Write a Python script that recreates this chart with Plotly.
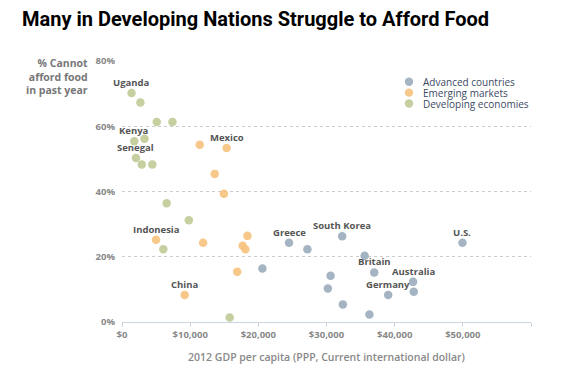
import plotly.graph_objects as go

# ---- data ----
groups = ["Advanced countries", "Emerging markets", "Developing economies"]

adv_gdp = [20600, 24500, 27200, 32300, 49950, 35600, 37000, 30600, 30200, 42700, 42800, 39050, 32400, 36300]
adv_pct = [16.4, 24.3, 22.3, 26.3, 24.3, 20.3, 15.2, 14.2, 10.3, 12.3, 9.3, 8.3, 5.4, 2.3]
adv_names = ["", "Greece", "", "South Korea", "U.S.", "", "Britain", "", "", "Australia", "", "Germany", "", ""]

emg_gdp = [11400, 15350, 13600, 14950, 4990, 11900, 18400, 17700, 18100, 16900, 9200]
emg_pct = [54.3, 53.3, 45.4, 39.3, 25.2, 24.3, 26.4, 23.4, 22.3, 15.4, 8.3]
emg_names = ["", "Mexico", "", "", "Indonesia", "", "", "", "", "", "China"]

dev_gdp = [1400, 2700, 5100, 7400, 1800, 3300, 2050, 2900, 4450, 6550, 9800, 6060, 15800]
dev_pct = [70.2, 67.3, 61.3, 61.3, 55.4, 56.2, 50.3, 48.3, 48.3, 36.4, 31.2, 22.3, 1.4]
dev_names = ["Uganda", "", "", "", "Kenya", "", "Senegal", "", "", "", "", "", ""]

colors = ["#9aacbb", "#f6c27d", "#bfca95"]

x_tickvals = [0, 10000, 20000, 30000, 40000, 50000, 60000]
x_ticktext = ["$0", "$10,000", "$20,000", "$30,000", "$40,000", "$50,000", ""]
y_tickvals = [0, 20, 40, 60, 80]
y_ticktext = ["0%", "20%", "40%", "60%", "80%"]

# ---- layout geometry ----
W, H = 570, 374
L, R, T, B = 122, 39, 61, 49
PW, PH = W - L - R, H - T - B


def px_to_paper(px, py):
    return (px - L) / PW, (H - B - py) / PH


fig = go.Figure()
series = [(adv_gdp, adv_pct, adv_names), (emg_gdp, emg_pct, emg_names), (dev_gdp, dev_pct, dev_names)]
for (xs, ys, names), g, c in zip(series, groups, colors):
    fig.add_trace(go.Scatter(
        x=xs, y=ys, mode="markers", name=g, showlegend=False,
        marker=dict(size=8.5, color=c, opacity=0.9, line=dict(width=0)),
        hoverinfo="skip"))
    for x, y, n in zip(xs, ys, names):
        if n:
            fig.add_annotation(x=x, y=y, text=n, showarrow=False, yshift=10.5,
                               font=dict(family="Open Sans", size=9.5, color="#555", weight=700))

# manual compact legend
for i, (g, c) in enumerate(zip(groups, colors)):
    cy = 82 + 11 * i
    mx, my = px_to_paper(409, cy)
    fig.add_shape(type="circle", xref="paper", yref="paper", xsizemode="pixel", ysizemode="pixel",
                  xanchor=mx, yanchor=my, x0=-4.2, x1=4.2, y0=-4.2, y1=4.2,
                  fillcolor=c, line=dict(width=0), opacity=0.9)
    tx, ty = px_to_paper(421, cy)
    fig.add_annotation(xref="paper", yref="paper", x=tx, y=ty, xanchor="left", yanchor="middle",
                       text=g, showarrow=False,
                       font=dict(family="Open Sans", size=10, color="#3c4a63"))

# y-axis title
ax, ay = px_to_paper(90, 54)
fig.add_annotation(xref="paper", yref="paper", x=ax, y=ay, xanchor="right", yanchor="top",
                   text="% Cannot<br>afford food<br>in past year", showarrow=False, align="right",
                   font=dict(family="Open Sans", size=10.5, color="#777", weight=700))

fig.update_layout(
    width=W, height=H,
    margin=dict(l=L, r=R, t=T, b=B),
    paper_bgcolor="white", plot_bgcolor="white",
    title=dict(text="Many in Developing Nations Struggle to Afford Food",
               xref="container", yref="container", x=22 / W, xanchor="left",
               y=1 - 19 / H, yanchor="middle",
               font=dict(family="Roboto, Liberation Sans, sans-serif", size=20,
                         color="#000", weight=700)),
    xaxis=dict(range=[0, 60000], tickvals=x_tickvals, ticktext=x_ticktext,
               showgrid=False, zeroline=False, showline=True, linecolor="#c9d5e1", linewidth=1,
               ticks="outside", ticklen=4, tickcolor="#c9d5e1",
               tickfont=dict(family="Open Sans", size=9.5, color="#888", weight=700),
               title=dict(text="2012 GDP per capita (PPP, Current international dollar)",
                          font=dict(family="Open Sans", size=10.5, color="#888", weight=600),
                          standoff=13),
               fixedrange=True),
    yaxis=dict(range=[0, 80], tickvals=y_tickvals, ticktext=y_ticktext,
               showgrid=True, gridcolor="#cccccc", griddash="dot", gridwidth=1,
               zeroline=False, showline=False, ticks="", ticklabelstandoff=6,
               tickfont=dict(family="Open Sans", size=9.5, color="#888", weight=700),
               fixedrange=True),
)

fig.write_html("out.html", config={"displayModeBar": False},
               post_script="document.body.style.margin='0';")
